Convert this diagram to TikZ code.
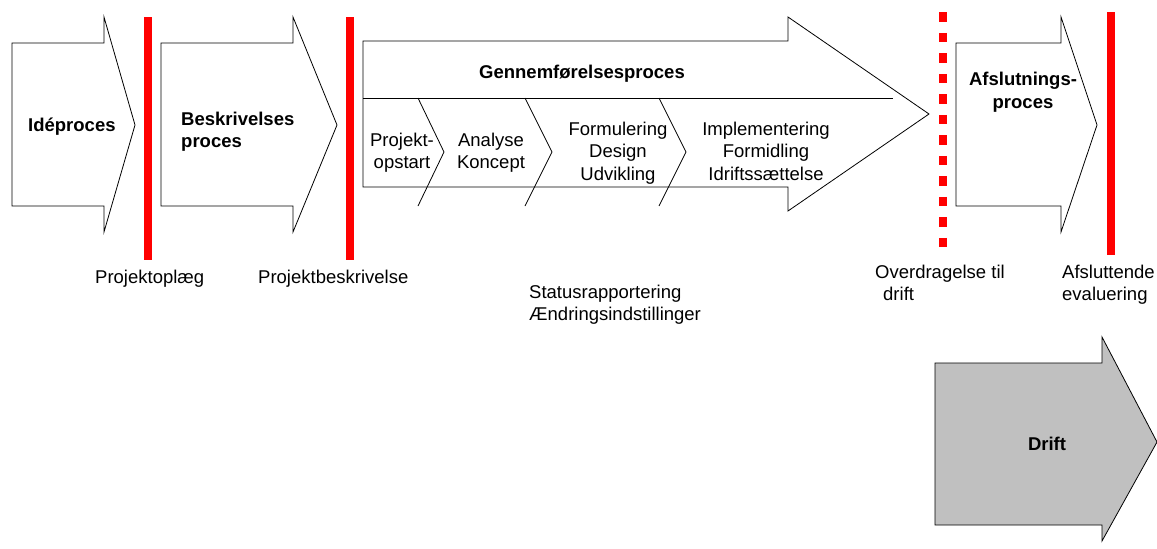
\documentclass[tikz,border=0pt]{standalone}
\usepackage{fontspec}
\setmainfont{Liberation Sans}
\begin{document}
\begin{tikzpicture}[x=1pt,y=-1pt,
  procarrow/.style={draw=black,line width=0.8pt,fill=white,line join=miter},
  driftarrow/.style={procarrow,fill=driftgray},
  redbar/.style={draw=red,line width=8pt},
  reddots/.style={draw=red,line width=8pt,dash pattern=on 9.5pt off 11pt},
  thinline/.style={draw=black,line width=0.8pt},
  txt/.style={inner sep=0pt,font=\fontsize{18.5}{22}\selectfont},
  btxt/.style={txt,font=\fontsize{18.5}{22}\selectfont\bfseries}]
\definecolor{driftgray}{HTML}{C0C0C0}
\useasboundingbox (0,0) rectangle (1157,549);

% phase arrows
\draw[procarrow] (12,43) -- (104,43) -- (104,17) -- (135,125) -- (104,232) -- (104,206) -- (12,206) -- cycle;
\draw[procarrow] (161,43) -- (293,43) -- (293,17) -- (337,125) -- (293,232) -- (293,206) -- (161,206) -- cycle;
\draw[procarrow] (363,41) -- (788,41) -- (788,17) -- (929,114) -- (788,211) -- (788,187) -- (363,187) -- cycle;
\draw[procarrow] (956,43) -- (1061,43) -- (1061,17) -- (1097,125) -- (1061,232) -- (1061,206) -- (956,206) -- cycle;
\draw[driftarrow] (935,363) -- (1102,363) -- (1102,337) -- (1157,442) -- (1102,541) -- (1102,525) -- (935,525) -- cycle;

% subdivision of the main process arrow
\draw[thinline] (363,98) -- (893,98);
\draw[thinline] (418,98) -- (444,152) -- (418,206);
\draw[thinline] (525,98) -- (552,152) -- (525,206);
\draw[thinline] (659,98) -- (686,152) -- (659,206);

% milestones
\draw[redbar] (147.5,17) -- (147.5,260);
\draw[redbar] (349.5,17) -- (349.5,260);
\draw[reddots] (943,12.3) -- (943,250);
\draw[redbar] (1111,12) -- (1111,255);

% phase titles
\node[btxt,anchor=base west] (ide) at (28,131) {Idéproces};
\node[btxt,anchor=base west] (besk1) at (181,125) {Beskrivelses};
\node[btxt,anchor=base west] (besk2) at (181,147) {proces};
\node[btxt,anchor=base] (genn) at (582,78) {Gennemførelsesproces};
\node[btxt,anchor=base] (afsl1) at (1023,85) {Afslutnings-};
\node[btxt,anchor=base] (afsl2) at (1023,108) {proces};
\node[btxt,anchor=base] (drift) at (1047,450) {Drift};

% sub-steps
\node[txt,anchor=base] (s1a) at (402,146) {Projekt-};
\node[txt,anchor=base] (s1b) at (402,168.5) {opstart};
\node[txt,anchor=base] (s2a) at (491,146) {Analyse};
\node[txt,anchor=base] (s2b) at (491,168.5) {Koncept};
\node[txt,anchor=base] (s3a) at (618,135) {Formulering};
\node[txt,anchor=base] (s3b) at (618,157.5) {Design};
\node[txt,anchor=base] (s3c) at (618,180) {Udvikling};
\node[txt,anchor=base] (s4a) at (766,135) {Implementering};
\node[txt,anchor=base] (s4b) at (766,157.5) {Formidling};
\node[txt,anchor=base] (s4c) at (766,180) {Idriftssættelse};

% milestone labels
\node[txt,anchor=base west] (m1) at (95,283) {Projektoplæg};
\node[txt,anchor=base west] (m2) at (258,283) {Projektbeskrivelse};
\node[txt,anchor=base west] (st1) at (529,298) {Statusrapportering};
\node[txt,anchor=base west] (st2) at (529,320) {Ændringsindstillinger};
\node[txt,anchor=base west] (m3a) at (875,278) {Overdragelse til};
\node[txt,anchor=base west] (m3b) at (883,300) {drift};
\node[txt,anchor=base west] (m4a) at (1062,278) {Afsluttende};
\node[txt,anchor=base west] (m4b) at (1062,300) {evaluering};
\end{tikzpicture}
\end{document}
